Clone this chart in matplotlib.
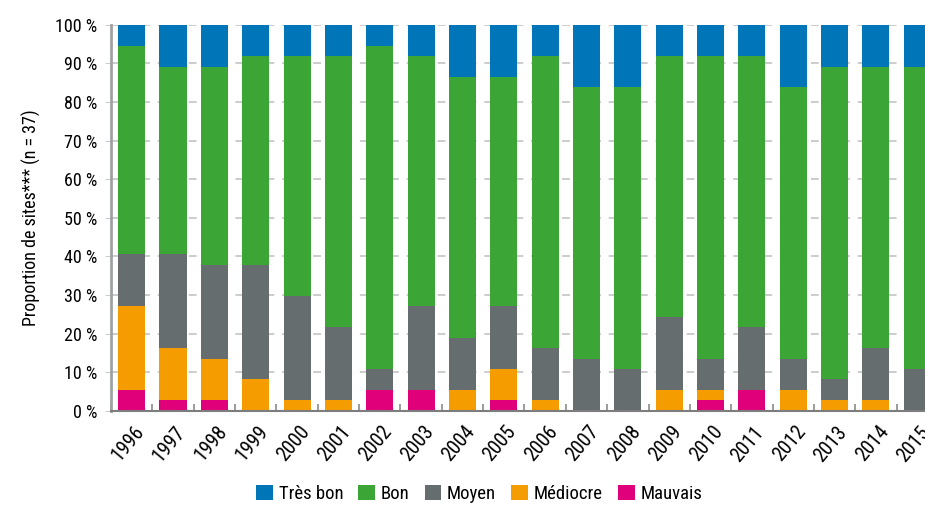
import numpy as np
import matplotlib.pyplot as plt
import matplotlib.transforms as mtransforms
from matplotlib import font_manager

# Nombre de sites par classe (n = 37)
annees = [str(a) for a in range(1996, 2016)]
tres_bon = [2, 4, 4, 3, 3, 3, 2, 3, 5, 5, 3, 6, 6, 3, 3, 3, 6, 4, 4, 4]
bon = [20, 18, 19, 20, 23, 26, 31, 24, 25, 22, 28, 26, 27, 25, 29, 26, 26, 30, 27, 29]
moyen = [5, 9, 9, 11, 10, 7, 2, 8, 5, 6, 5, 5, 4, 7, 3, 6, 3, 2, 5, 4]
mediocre = [8, 5, 4, 3, 1, 1, 0, 0, 2, 3, 1, 0, 0, 2, 1, 0, 2, 1, 1, 0]
mauvais = [2, 1, 1, 0, 0, 0, 2, 2, 0, 1, 0, 0, 0, 0, 1, 2, 0, 0, 0, 0]
n_sites = 37

series = [
    ('Très bon', tres_bon, '#0075b8'),
    ('Bon', bon, '#3ba535'),
    ('Moyen', moyen, '#666d6e'),
    ('Médiocre', mediocre, '#f49c00'),
    ('Mauvais', mauvais, '#e0007a'),
]

# police étroite si disponible
dispo = {f.name for f in font_manager.fontManager.ttflist}
choix = [('Roboto Condensed', 13), ('Liberation Sans Narrow', 13),
         ('Open Sans Condensed', 13), ('Roboto', 11.5)]
police, taille = 'DejaVu Sans', 10.5
for nom, t in choix:
    if nom in dispo:
        police, taille = nom, t
        break
plt.rcParams['font.family'] = [police, 'DejaVu Sans']

fig = plt.figure(figsize=(9.25, 5.07), dpi=100)
ax = fig.add_axes([0.12, 0.19, 0.894, 0.761])

x = np.arange(len(annees))
bas = np.zeros(len(annees))
# empilement du bas vers le haut
for nom, vals, coul in reversed(series):
    pct = np.array(vals) / n_sites * 100
    ax.bar(x, pct, bottom=bas, width=0.655, color=coul, label=nom, zorder=2)
    bas += pct

ax.set_xlim(-0.5, len(annees) - 0.5)
ax.set_ylim(0, 100)
ax.set_yticks(np.arange(0, 101, 10))
ax.set_yticklabels([f'{v} %' for v in range(0, 101, 10)], fontsize=taille)
ax.yaxis.grid(True, color='#cccccc', linestyle=(0, (4, 4)), linewidth=1.4, zorder=0)
ax.set_axisbelow(True)

ax.set_xticks(x)
ax.set_xticklabels(annees, rotation=50, ha='right', va='center',
                   rotation_mode='anchor', fontsize=taille + 1.5)
ax.tick_params(axis='x', length=0, pad=10)
decal = mtransforms.ScaledTranslation(9 / 100, -4 / 100, fig.dpi_scale_trans)
for lab in ax.get_xticklabels():
    lab.set_transform(lab.get_transform() + decal)
ax.set_xticks(np.arange(-0.5, len(annees)), minor=True)
ax.tick_params(axis='x', which='minor', direction='in', length=5, color='#8a8a8a', width=1.2)
ax.tick_params(axis='y', length=4, color='#cccccc', pad=6)

for s in ['top', 'right']:
    ax.spines[s].set_visible(False)
ax.spines['left'].set_color('#9ea2a2')
ax.spines['left'].set_linewidth(2)
ax.spines['bottom'].set_color('#7d7d7d')
ax.spines['bottom'].set_linewidth(1.5)

ax.set_ylabel('Proportion de sites*** (n = 37)', fontsize=taille, labelpad=10)

poignees, etiquettes = ax.get_legend_handles_labels()
fig.legend(poignees[::-1], etiquettes[::-1], loc='lower center', ncol=5,
           bbox_to_anchor=(0.518, -0.025), frameon=False, fontsize=taille + 0.5,
           handlelength=0.9, handleheight=0.9, handletextpad=0.3, columnspacing=0.8)

fig.savefig('out.png', dpi=100)
